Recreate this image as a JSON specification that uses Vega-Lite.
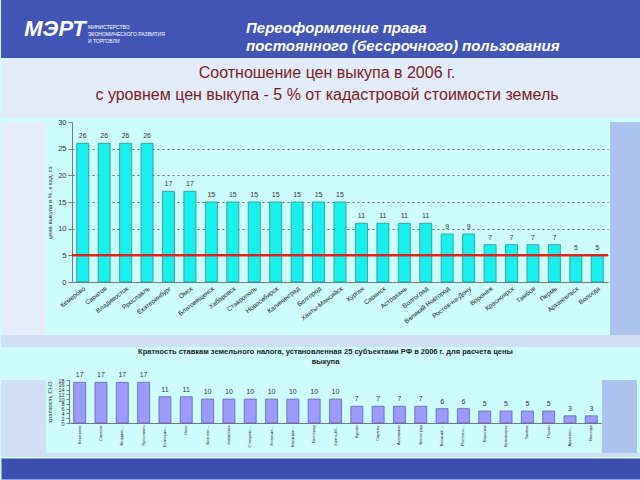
{
  "$schema": "https://vega.github.io/schema/vega-lite/v6.json",
  "padding": 0,
  "background": "#ccfcfc",
  "spacing": 0,
  "config": {
    "font": "Liberation Sans",
    "view": {"stroke": null},
    "concat": {"spacing": 0}
  },
  "datasets": {
    "cities": [
      {"city": "Кемерово", "v": 26, "k": 17},
      {"city": "Саратов", "v": 26, "k": 17},
      {"city": "Владивосток", "v": 26, "k": 17},
      {"city": "Ярославль", "v": 26, "k": 17},
      {"city": "Екатеринбург", "v": 17, "k": 11},
      {"city": "Омск", "v": 17, "k": 11},
      {"city": "Благовещенск", "v": 15, "k": 10},
      {"city": "Хабаровск", "v": 15, "k": 10},
      {"city": "Ставрополь", "v": 15, "k": 10},
      {"city": "Новосибирск", "v": 15, "k": 10},
      {"city": "Калининград", "v": 15, "k": 10},
      {"city": "Белгород", "v": 15, "k": 10},
      {"city": "Ханты-Мансийск", "v": 15, "k": 10},
      {"city": "Курган", "v": 11, "k": 7},
      {"city": "Саранск", "v": 11, "k": 7},
      {"city": "Астрахань", "v": 11, "k": 7},
      {"city": "Волгоград", "v": 11, "k": 7},
      {"city": "Великий Новгород", "v": 9, "k": 6},
      {"city": "Ростов-на-Дону", "v": 9, "k": 6},
      {"city": "Воронеж", "v": 7, "k": 5},
      {"city": "Красноярск", "v": 7, "k": 5},
      {"city": "Тамбов", "v": 7, "k": 5},
      {"city": "Пермь", "v": 7, "k": 5},
      {"city": "Архангельск", "v": 5, "k": 3},
      {"city": "Вологда", "v": 5, "k": 3}
    ]
  },
  "vconcat": [
    {
      "width": 640,
      "height": 58,
      "view": {"fill": "#4155b4", "stroke": null},
      "layer": [
        {
          "data": {"values": [{"t": "Переоформление права\nпостоянного (бессрочного) пользования"}]},
          "mark": {"type": "text", "align": "left", "baseline": "middle", "dx": -75, "dy": -1, "fontSize": 15, "fontStyle": "italic", "fontWeight": "bold", "color": "#ffffff", "lineBreak": "\n", "lineHeight": 18},
          "encoding": {"text": {"field": "t"}}
        },
        {
          "data": {"values": [{"t": "МЭРТ"}]},
          "mark": {"type": "text", "align": "center", "baseline": "middle", "dx": -266, "dy": 0, "fontSize": 22, "fontStyle": "italic", "fontWeight": "bold", "color": "#ffffff"},
          "encoding": {"text": {"field": "t"}}
        },
        {
          "data": {"values": [{"t": "МИНИСТЕРСТВО\nЭКОНОМИЧЕСКОГО РАЗВИТИЯ\nИ ТОРГОВЛИ"}]},
          "mark": {"type": "text", "align": "left", "baseline": "middle", "dx": -233, "dy": -2, "fontSize": 5, "color": "#ffffff", "lineBreak": "\n", "lineHeight": 7},
          "encoding": {"text": {"field": "t"}}
        }
      ]
    },
    {
      "width": 640,
      "height": 60,
      "view": {"fill": "#e2ecf9", "stroke": null},
      "data": {"values": [{"t": "Соотношение цен выкупа в 2006 г.\nс уровнем цен выкупа - 5 % от кадастровой стоимости земель"}]},
      "mark": {"type": "text", "align": "center", "baseline": "middle", "dx": 6, "dy": -15, "fontSize": 16, "color": "#7a1a22", "lineBreak": "\n", "lineHeight": 22},
      "encoding": {"text": {"field": "t"}}
    },
    {
      "spacing": 0,
      "hconcat": [
        {"width": 45, "height": 213, "view": {"fill": "#e4edf9", "stroke": null}, "data": {"values": []}, "mark": "point", "encoding": {}},
        {
          "width": 536,
          "height": 160,
          "data": {"name": "cities"},
          "layer": [
            {
              "mark": {"type": "bar", "fill": "#18efef", "stroke": "#2f8f8f", "strokeWidth": 0.8},
              "encoding": {
                "x": {"field": "city", "type": "nominal", "sort": null, "scale": {"paddingInner": 0.44, "paddingOuter": 0.22},
                  "axis": {"title": null, "labelAngle": -38, "labelFontSize": 6.5, "labelColor": "#222222", "ticks": false, "domainColor": "#777777", "labelPadding": 3}},
                "y": {"field": "v", "type": "quantitative", "scale": {"domain": [0, 30]},
                  "axis": {"title": "цена выкупа в %, к кад. ст.", "titleFontSize": 6, "titleFontWeight": "normal", "titleColor": "#333333", "titlePadding": 5,
                    "values": [0, 5, 10, 15, 20, 25, 30], "labelFontSize": 7.5, "labelColor": "#333333", "tickSize": 4, "tickColor": "#777777", "domainColor": "#777777",
                    "grid": true, "gridDash": [2, 3], "gridColor": "#666666",
                    "gridOpacity": {"condition": {"test": "datum.value === 30 || datum.value === 0", "value": 0}, "value": 1}}}
              }
            },
            {
              "mark": {"type": "text", "dy": -4, "fontSize": 7, "color": "#333333", "baseline": "bottom"},
              "encoding": {
                "x": {"field": "city", "type": "nominal", "sort": null,
                  "axis": {"title": null, "labelAngle": -38, "labelFontSize": 6.5, "labelColor": "#222222", "ticks": false, "domainColor": "#777777", "labelPadding": 3}},
                "y": {"field": "v", "type": "quantitative",
                  "axis": {"title": "цена выкупа в %, к кад. ст.", "titleFontSize": 6, "titleFontWeight": "normal", "titleColor": "#333333", "titlePadding": 5,
                    "values": [0, 5, 10, 15, 20, 25, 30], "labelFontSize": 7.5, "labelColor": "#333333", "tickSize": 4, "tickColor": "#777777", "domainColor": "#777777",
                    "grid": true, "gridDash": [2, 3], "gridColor": "#666666",
                    "gridOpacity": {"condition": {"test": "datum.value === 30 || datum.value === 0", "value": 0}, "value": 1}}},
                "text": {"field": "v"}
              }
            },
            {
              "data": {"values": [{}]},
              "mark": {"type": "rule", "color": "#e3221c", "strokeWidth": 2.5},
              "encoding": {"y": {"datum": 5, "type": "quantitative",
                  "axis": {"title": "цена выкупа в %, к кад. ст.", "titleFontSize": 6, "titleFontWeight": "normal", "titleColor": "#333333", "titlePadding": 5,
                    "values": [0, 5, 10, 15, 20, 25, 30], "labelFontSize": 7.5, "labelColor": "#333333", "tickSize": 4, "tickColor": "#777777", "domainColor": "#777777",
                    "grid": true, "gridDash": [2, 3], "gridColor": "#666666",
                    "gridOpacity": {"condition": {"test": "datum.value === 30 || datum.value === 0", "value": 0}, "value": 1}}}}
            }
          ]
        },
        {"width": 35, "height": 213, "view": {"fill": "#aac3ef", "stroke": null}, "data": {"values": []}, "mark": "point", "encoding": {}}
      ]
    },
    {"width": 640, "height": 12, "view": {"fill": "#cfe0f6", "stroke": null}, "data": {"values": []}, "mark": "point", "encoding": {}},
    {
      "spacing": 0,
      "hconcat": [
        {"width": 45, "height": 73, "view": {"fill": "#cfe0f6", "stroke": null}, "data": {"values": []}, "mark": "point", "encoding": {}},
        {
          "width": 533,
          "height": 43,
          "data": {"name": "cities"},
          "title": {"text": ["Кратность ставкам земельного налога, установленная 25 субъектами РФ  в 2006 г. для расчета цены", "выкупа"], "fontSize": 7.5, "fontWeight": "bold", "color": "#222222", "lineHeight": 10, "offset": 6, "frame": "group", "anchor": "middle", "dx": -10},
          "layer": [
            {
              "mark": {"type": "bar", "fill": "#9b9bff", "stroke": "#5f5faa", "strokeWidth": 0.8},
              "encoding": {
                "x": {"field": "city", "type": "nominal", "sort": null, "scale": {"paddingInner": 0.44, "paddingOuter": 0.22},
                  "axis": {"title": null, "labelAngle": -90, "labelFontSize": 4, "labelColor": "#222222", "ticks": false, "domainColor": "#777777", "labelPadding": 2, "labelLimit": 22}},
                "y": {"field": "k", "type": "quantitative", "scale": {"domain": [0, 18]},
                  "axis": {"title": "кратность СНЗ", "titleFontSize": 6, "titleFontWeight": "normal", "titleColor": "#333333", "titlePadding": 5,
                    "values": [0, 2, 4, 6, 8, 10, 12, 14, 16, 18], "labelFontSize": 5.5, "labelColor": "#333333", "labelOverlap": false, "tickSize": 3, "tickColor": "#777777", "domainColor": "#777777", "grid": false}}
              }
            },
            {
              "mark": {"type": "text", "dy": -4, "fontSize": 7, "color": "#333333", "baseline": "bottom"},
              "encoding": {
                "x": {"field": "city", "type": "nominal", "sort": null,
                  "axis": {"title": null, "labelAngle": -90, "labelFontSize": 4, "labelColor": "#222222", "ticks": false, "domainColor": "#777777", "labelPadding": 2, "labelLimit": 22}},
                "y": {"field": "k", "type": "quantitative",
                  "axis": {"title": "кратность СНЗ", "titleFontSize": 6, "titleFontWeight": "normal", "titleColor": "#333333", "titlePadding": 5,
                    "values": [0, 2, 4, 6, 8, 10, 12, 14, 16, 18], "labelFontSize": 5.5, "labelColor": "#333333", "labelOverlap": false, "tickSize": 3, "tickColor": "#777777", "domainColor": "#777777", "grid": false}},
                "text": {"field": "k"}
              }
            }
          ]
        },
        {"width": 35, "height": 73, "view": {"fill": "#aac3ef", "stroke": null}, "data": {"values": []}, "mark": "point", "encoding": {}}
      ]
    },
    {"width": 640, "height": 4, "view": {"fill": "#cfe0f6", "stroke": null}, "data": {"values": []}, "mark": "point", "encoding": {}},
    {"width": 640, "height": 21, "view": {"fill": "#3a4fae", "stroke": "#8ea4e4", "strokeWidth": 1}, "data": {"values": []}, "mark": "point", "encoding": {}}
  ]
}
